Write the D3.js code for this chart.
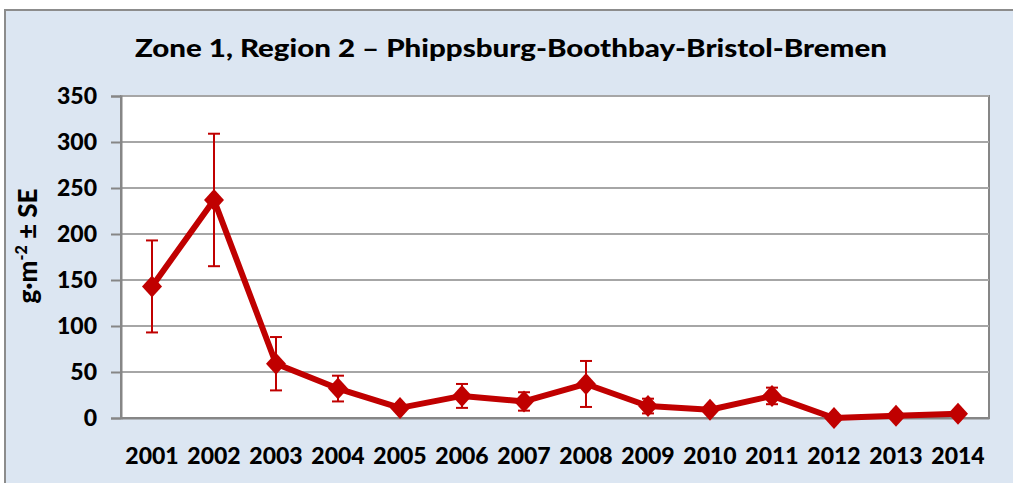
<!DOCTYPE html>
<html>
<head>
<meta charset="utf-8">
<script src="https://cdn.jsdelivr.net/npm/d3@7"></script>
<style>
  body { margin: 0; background: #fff; }
  svg { display: block; }
  text { font-family: Lato, "Open Sans", sans-serif; font-weight: 900; fill: #000; }
</style>
</head>
<body>
<svg id="chart" width="1013" height="483"></svg>
<script>
// data
const years = ['2001', '2002', '2003', '2004', '2005', '2006', '2007',
  '2008', '2009', '2010', '2011', '2012', '2013', '2014'];
const means = [143, 237, 59, 32, 11, 24, 18, 37, 13, 9, 24, 0, 2.5, 4.5];
const se = [50, 72, 29, 14, 3, 13, 10, 25, 8, 3, 9, 0, 0, 0];
const yTicks = [0, 50, 100, 150, 200, 250, 300, 350];

const red = '#c00000';
const axisGrey = '#868686';

const svg = d3.select('#chart');

// chart background
svg.append('rect')
  .attr('x', 5).attr('y', 10)
  .attr('width', 1013).attr('height', 480)
  .attr('fill', '#dce6f2')
  .attr('stroke', '#8c8c8c')
  .attr('stroke-width', 2);

const plot = { left: 121, right: 989, top: 96, bottom: 418 };

const x = d3.scaleBand()
  .domain(years)
  .range([plot.left, plot.right]);
const y = d3.scaleLinear()
  .domain([0, 350])
  .range([plot.bottom, plot.top]);
const cx = d => x(d) + x.bandwidth() / 2;

// plot area
svg.append('rect')
  .attr('x', plot.left).attr('y', plot.top)
  .attr('width', plot.right - plot.left).attr('height', plot.bottom - plot.top)
  .attr('fill', '#fff')
  .attr('stroke', axisGrey)
  .attr('stroke-width', 2);

// gridlines
svg.append('g')
  .selectAll('line')
  .data(yTicks.filter(d => d > 0))
  .enter()
  .append('line')
  .attr('x1', plot.left).attr('x2', plot.right)
  .attr('y1', d => y(d)).attr('y2', d => y(d))
  .attr('stroke', '#a6a6a6')
  .attr('stroke-width', 2);

// y axis
const yAxis = svg.append('g')
  .attr('transform', `translate(${plot.left},0)`)
  .call(d3.axisLeft(y).tickValues(yTicks).tickSize(10).tickPadding(14));
yAxis.select('.domain').attr('stroke', axisGrey).attr('stroke-width', 2);
yAxis.selectAll('.tick line').attr('stroke', axisGrey).attr('stroke-width', 2);
yAxis.selectAll('.tick text')
  .style('font-size', '23px')
  .attr('fill', '#000');

// x axis
const xAxis = svg.append('g')
  .attr('transform', `translate(0,${plot.bottom})`)
  .call(d3.axisBottom(x).tickSize(0).tickPadding(30));
xAxis.select('.domain').attr('stroke', axisGrey).attr('stroke-width', 2);
xAxis.selectAll('.tick text')
  .style('font-size', '23px')
  .attr('fill', '#000');

// title
svg.append('text')
  .attr('x', 511).attr('y', 57)
  .attr('text-anchor', 'middle')
  .attr('textLength', 752)
  .attr('lengthAdjust', 'spacingAndGlyphs')
  .style('font-size', '25px')
  .text('Zone 1, Region 2 \u2013 Phippsburg-Boothbay-Bristol-Bremen');

// y axis title
const yt = svg.append('text')
  .attr('transform', 'translate(37,246) rotate(-90)')
  .attr('text-anchor', 'middle')
  .style('font-size', '26px');
yt.append('tspan').text('g\u00b7m');
yt.append('tspan').attr('dy', -10).style('font-size', '16px').text('-2');
yt.append('tspan').attr('dy', 10).text(' \u00b1 SE');

// error bars
const eb = svg.append('g')
  .selectAll('g')
  .data(years.map((yr, i) => ({ yr, m: means[i], e: se[i] })).filter(d => d.e > 0))
  .enter()
  .append('g')
  .attr('stroke', red)
  .attr('stroke-width', 2);
eb.append('line')
  .attr('x1', d => cx(d.yr)).attr('x2', d => cx(d.yr))
  .attr('y1', d => y(d.m + d.e)).attr('y2', d => y(d.m - d.e));
eb.append('line')
  .attr('x1', d => cx(d.yr) - 6).attr('x2', d => cx(d.yr) + 6)
  .attr('y1', d => y(d.m + d.e)).attr('y2', d => y(d.m + d.e));
eb.append('line')
  .attr('x1', d => cx(d.yr) - 6).attr('x2', d => cx(d.yr) + 6)
  .attr('y1', d => y(d.m - d.e)).attr('y2', d => y(d.m - d.e));

// line
const line = d3.line()
  .x((d, i) => cx(years[i]))
  .y(d => y(d));
svg.append('path')
  .datum(means)
  .attr('d', line)
  .attr('fill', 'none')
  .attr('stroke', red)
  .attr('stroke-width', 6)
  .attr('stroke-linejoin', 'round');

// diamond markers
svg.append('g')
  .selectAll('path')
  .data(means)
  .enter()
  .append('path')
  .attr('d', 'M0,-11L10,0L0,11L-10,0Z')
  .attr('transform', (d, i) => `translate(${cx(years[i])},${y(d)})`)
  .attr('fill', red);
</script>
</body>
</html>
